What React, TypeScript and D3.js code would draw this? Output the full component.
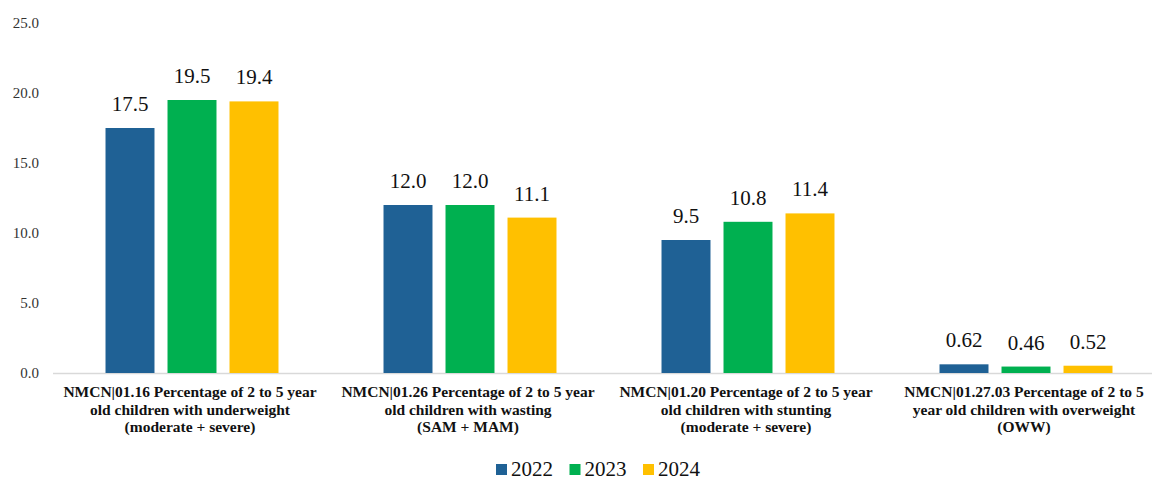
import React from "react";
import * as d3 from "d3";

const categories = [
  ["NMCN|01.16 Percentage of 2 to 5 year", "old children with underweight", "(moderate + severe)"],
  ["NMCN|01.26 Percentage of 2 to 5 year", "old children with wasting", "(SAM + MAM)"],
  ["NMCN|01.20 Percentage of 2 to 5 year", "old children with stunting", "(moderate + severe)"],
  ["NMCN|01.27.03 Percentage of 2 to 5", "year old children with overweight", "(OWW)"],
];
const years = ["2022", "2023", "2024"];
const values2022 = [17.5, 12.0, 9.5, 0.62];
const values2023 = [19.5, 12.0, 10.8, 0.46];
const values2024 = [19.4, 11.1, 11.4, 0.52];
const labels2022 = ["17.5", "12.0", "9.5", "0.62"];
const labels2023 = ["19.5", "12.0", "10.8", "0.46"];
const labels2024 = ["19.4", "11.1", "11.4", "0.52"];
const yTicks = [0, 5, 10, 15, 20, 25];
const colors = ["#1F6195", "#00B050", "#FFC000"];

const series = [values2022, values2023, values2024];
const seriesLabels = [labels2022, labels2023, labels2024];

export default function App() {
  const W = 1152, H = 481;
  const left = 53, right = 1165, top = 23, bottom = 373;
  const x0 = d3.scaleBand<number>().domain(d3.range(categories.length)).range([left, right]).paddingInner(0).paddingOuter(0);
  const x1 = d3.scaleBand<number>().domain(d3.range(years.length)).range([x0.bandwidth() / 2 - 93, x0.bandwidth() / 2 + 93]).paddingInner(0.21).paddingOuter(0.105);
  const y = d3.scaleLinear().domain([0, 25]).range([bottom, top]);
  const font = "Tinos";
  const boldFont = "Liberation Serif";
  return (
    <svg width={W} height={H} style={{ position: "absolute", left: 0, top: 0, background: "#fff" }}>
      {yTicks.map((t) => (
        <text key={t} x={39} y={y(t) + 5} textAnchor="end" fontFamily={font} fontWeight={400} fontSize={15} fill="#333">
          {t.toFixed(1)}
        </text>
      ))}
      <line x1={left} x2={right} y1={bottom + 0.5} y2={bottom + 0.5} stroke="#d9d9d9" strokeWidth={1.5} />
      {categories.map((c, ci) => (
        <g key={ci}>
          {series.map((s, si) => {
            const bx = (x0(ci) as number) + (x1(si) as number);
            const bw = x1.bandwidth();
            return (
              <g key={si}>
                <rect x={bx} y={y(s[ci])} width={bw} height={bottom - y(s[ci])} fill={colors[si]} />
                <text x={bx + bw / 2} y={y(s[ci]) - 17} textAnchor="middle" fontFamily={font} fontWeight={400} fontSize={21} fill="#111">
                  {seriesLabels[si][ci]}
                </text>
              </g>
            );
          })}
          {c.map((line, li) => (
            <text key={li} x={(x0(ci) as number) + x0.bandwidth() / 2 - 2} y={397 + li * 17.5} textAnchor="middle" fontFamily={boldFont} fontSize={15.5} fontWeight="bold" fill="#111">
              {line}
            </text>
          ))}
        </g>
      ))}
      {years.map((yr, i) => {
        const lx = 496 + i * 73.5;
        return (
          <g key={yr}>
            <rect x={lx} y={464} width={11} height={11} fill={colors[i]} />
            <text x={lx + 15} y={476} fontFamily={font} fontWeight={400} fontSize={21} fill="#111">{yr}</text>
          </g>
        );
      })}
    </svg>
  );
}
